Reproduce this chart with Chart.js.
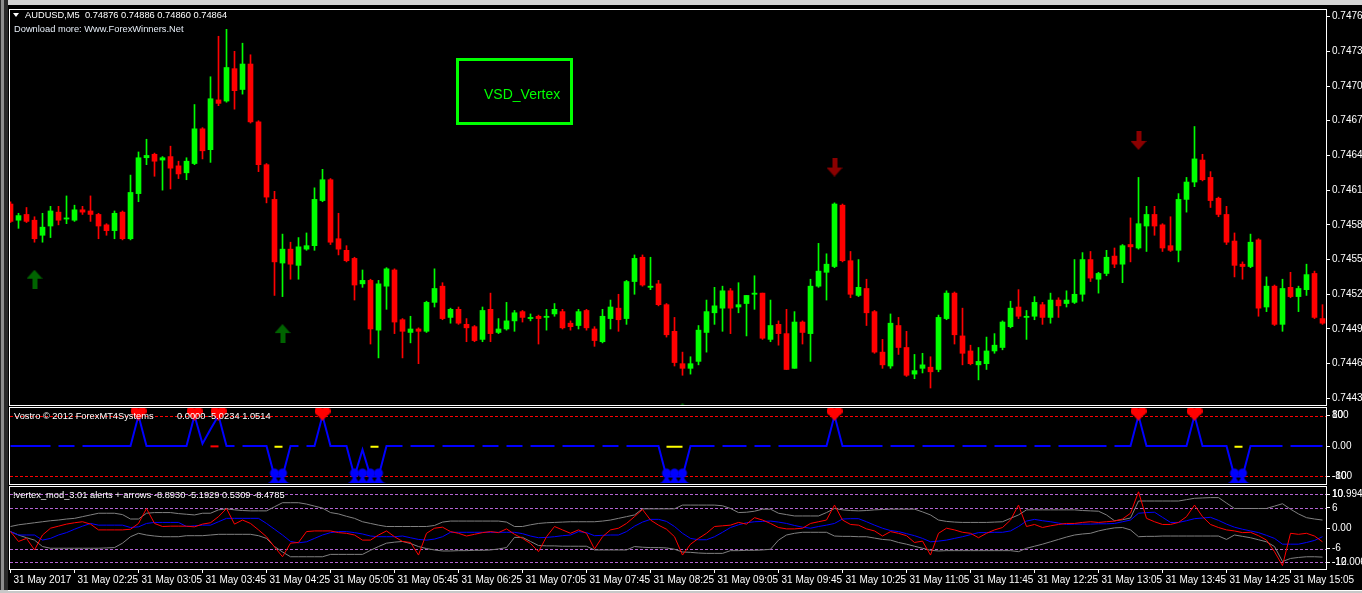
<!DOCTYPE html>
<html>
<head>
<meta charset="utf-8">
<script src="https://cdn.jsdelivr.net/npm/chart.js@4.4.1/dist/chart.umd.min.js"></script>
<style>
  html, body { margin: 0; padding: 0; background: #000; overflow: hidden; }
  #wrap { position: relative; width: 1362px; height: 593px; background: #000; font-family: "Liberation Sans", Arial, sans-serif; }
  #wrap canvas { position: absolute; left: 0; top: 0; }
  .chrome { position: absolute; }
  .txt { position: absolute; white-space: pre; color: #fff; font-size: 9.3px; line-height: 11px; }
  #vsdBox { position: absolute; left: 456px; top: 58px; width: 117px; height: 67px; box-sizing: border-box; border: 3px solid #00ff00; }
  #vsdText { position: absolute; left: 484px; top: 86px; color: #00ff00; font-size: 14px; line-height: 17px; white-space: pre; }
  #tri { position: absolute; left: 13px; top: 13px; width: 0; height: 0; border-left: 3.5px solid transparent; border-right: 3.5px solid transparent; border-top: 4px solid #fff; }
</style>
</head>
<body>
<div id="wrap">
  <div class="chrome" style="left:0;top:0;width:1362px;height:5px;background:#d4d4d4"></div>
  <div class="chrome" style="left:0;top:0;width:8px;height:593px;background:#2a2a2a"></div>
  <div class="chrome" style="left:1px;top:0;width:3px;height:593px;background:#8e8e8e"></div>
  <div class="chrome" style="left:0;top:590px;width:1362px;height:3px;background:#c8c8c8"></div>
  <div class="chrome" style="left:8px;top:590px;width:1354px;height:1px;background:#fff"></div>

  <canvas id="mainChart" width="1362" height="593"></canvas>
  <canvas id="vostroChart" width="1362" height="593"></canvas>
  <canvas id="vertexChart" width="1362" height="593"></canvas>

  <div id="tri"></div>
  <div class="txt" style="left:25px;top:10px">AUDUSD,M5  0.74876 0.74886 0.74860 0.74864</div>
  <div class="txt" style="left:14px;top:24px;color:#e6eef8">Download more: Www.ForexWinners.Net</div>
  <div class="txt" style="left:14px;top:411px">Vostro © 2012 ForexMT4Systems</div>
  <div class="txt" style="left:177px;top:411px">0.0000 -5.0234 1.0514</div>
  <div class="txt" style="left:13px;top:490px">!vertex_mod_3.01 alerts + arrows -8.8930 -5.1929 0.5309 -8.4785</div>
  <div id="vsdBox"></div>
  <div id="vsdText">VSD_Vertex</div>
</div>

<script>
// ---- data (AUDUSD M5, one entry per 5-minute bar) ----
const timeLabels = ['31 May 2017', '31 May 02:25', '31 May 03:05', '31 May 03:45', '31 May 04:25',
  '31 May 05:05', '31 May 05:45', '31 May 06:25', '31 May 07:05', '31 May 07:45', '31 May 08:25',
  '31 May 09:05', '31 May 09:45', '31 May 10:25', '31 May 11:05', '31 May 11:45', '31 May 12:25',
  '31 May 13:05', '31 May 13:45', '31 May 14:25', '31 May 15:05'];
const barsPerLabel = 8;

const priceTicks = [0.74765, 0.74735, 0.74705, 0.74675, 0.74645, 0.74615, 0.74585, 0.74555, 0.74525, 0.74495, 0.74465, 0.74435];

const opens = [
  0.74603,0.74589,0.74594,0.74589,0.74576,0.74584,0.74596,0.74590,0.74589,0.74598,
  0.74597,0.74594,0.74585,0.74580,0.74596,0.74573,0.74612,0.74643,0.74646,0.74641,
  0.74644,0.74636,0.74630,0.74638,0.74668,0.74650,0.74693,0.74692,0.74720,0.74702,
  0.74724,0.74674,0.74637,0.74607,0.74552,0.74564,0.74550,0.74564,0.74567,0.74606,
  0.74624,0.74573,0.74563,0.74556,0.74534,0.74537,0.74494,0.74532,0.74546,0.74503,
  0.74492,0.74495,0.74493,0.74518,0.74532,0.74505,0.74512,0.74499,0.74497,0.74486,
  0.74512,0.74492,0.74495,0.74502,0.74510,0.74504,0.74506,0.74505,0.74508,0.74510,
  0.74500,0.74498,0.74511,0.74495,0.74484,0.74504,0.74513,0.74504,0.74536,0.74557,
  0.74531,0.74534,0.74516,0.74493,0.74465,0.74461,0.74467,0.74492,0.74509,0.74513,
  0.74528,0.74514,0.74517,0.74525,0.74526,0.74486,0.74499,0.74491,0.74461,0.74501,
  0.74491,0.74532,0.74544,0.74549,0.74602,0.74554,0.74524,0.74530,0.74510,0.74475,
  0.74463,0.74498,0.74479,0.74456,0.74461,0.74462,0.74460,0.74504,0.74526,0.74489,
  0.74476,0.74464,0.74465,0.74476,0.74479,0.74497,0.74514,0.74505,0.74506,0.74516,
  0.74505,0.74520,0.74517,0.74518,0.74525,0.74555,0.74538,0.74543,0.74558,0.74551,
  0.74568,0.74565,0.74584,0.74594,0.74585,0.74567,0.74563,0.74607,0.74622,0.74641,
  0.74626,0.74608,0.74594,0.74571,0.74551,0.74549,0.74572,0.74514,0.74532,0.74499,
  0.74531,0.74523,0.74529,0.74543,0.74504];
const highs = [
  0.74605,0.74595,0.74600,0.74592,0.74595,0.74601,0.74601,0.74610,0.74602,0.74601,
  0.74610,0.74595,0.74586,0.74597,0.74597,0.74628,0.74648,0.74659,0.74647,0.74644,
  0.74653,0.74640,0.74643,0.74689,0.74669,0.74713,0.74748,0.74754,0.74735,0.74742,
  0.74732,0.74675,0.74638,0.74614,0.74577,0.74570,0.74574,0.74578,0.74617,0.74633,
  0.74625,0.74595,0.74567,0.74557,0.74546,0.74538,0.74537,0.74548,0.74547,0.74504,
  0.74506,0.74496,0.74519,0.74547,0.74535,0.74513,0.74514,0.74504,0.74498,0.74514,
  0.74526,0.74504,0.74518,0.74511,0.74511,0.74508,0.74507,0.74512,0.74517,0.74512,
  0.74502,0.74512,0.74512,0.74497,0.74512,0.74520,0.74525,0.74537,0.74559,0.74559,
  0.74557,0.74537,0.74517,0.74505,0.74475,0.74471,0.74498,0.74520,0.74531,0.74532,
  0.74530,0.74535,0.74524,0.74541,0.74526,0.74520,0.74502,0.74512,0.74510,0.74502,
  0.74538,0.74569,0.74560,0.74604,0.74603,0.74562,0.74555,0.74538,0.74511,0.74486,
  0.74508,0.74505,0.74493,0.74473,0.74474,0.74471,0.74507,0.74528,0.74527,0.74513,
  0.74481,0.74479,0.74488,0.74491,0.74502,0.74519,0.74529,0.74511,0.74523,0.74518,
  0.74526,0.74522,0.74528,0.74555,0.74561,0.74562,0.74544,0.74563,0.74565,0.74568,
  0.74591,0.74626,0.74601,0.74601,0.74586,0.74592,0.74612,0.74626,0.74670,0.74646,
  0.74631,0.74609,0.74601,0.74578,0.74553,0.74577,0.74573,0.74540,0.74533,0.74538,
  0.74544,0.74532,0.74551,0.74545,0.74516];
const lows = [
  0.74587,0.74582,0.74587,0.74570,0.74570,0.74574,0.74585,0.74586,0.74588,0.74594,
  0.74588,0.74573,0.74576,0.74573,0.74572,0.74572,0.74605,0.74637,0.74627,0.74615,
  0.74616,0.74625,0.74624,0.74637,0.74642,0.74639,0.74688,0.74691,0.74685,0.74698,
  0.74673,0.74631,0.74604,0.74524,0.74523,0.74538,0.74538,0.74563,0.74563,0.74605,
  0.74568,0.74559,0.74553,0.74520,0.74531,0.74482,0.74470,0.74512,0.74491,0.74470,
  0.74483,0.74465,0.74492,0.74514,0.74503,0.74500,0.74499,0.74484,0.74484,0.74484,
  0.74484,0.74491,0.74494,0.74493,0.74501,0.74502,0.74482,0.74494,0.74506,0.74495,
  0.74494,0.74495,0.74494,0.74480,0.74483,0.74495,0.74493,0.74499,0.74525,0.74532,
  0.74529,0.74515,0.74488,0.74463,0.74455,0.74456,0.74464,0.74475,0.74499,0.74493,
  0.74491,0.74509,0.74489,0.74512,0.74486,0.74484,0.74481,0.74460,0.74461,0.74482,
  0.74467,0.74531,0.74520,0.74548,0.74553,0.74522,0.74523,0.74498,0.74474,0.74461,
  0.74461,0.74473,0.74454,0.74452,0.74457,0.74444,0.74458,0.74503,0.74482,0.74464,
  0.74464,0.74451,0.74460,0.74474,0.74477,0.74496,0.74504,0.74486,0.74503,0.74499,
  0.74500,0.74505,0.74514,0.74517,0.74519,0.74536,0.74526,0.74541,0.74548,0.74535,
  0.74553,0.74564,0.74562,0.74576,0.74562,0.74562,0.74553,0.74596,0.74618,0.74623,
  0.74600,0.74592,0.74568,0.74540,0.74538,0.74548,0.74506,0.74510,0.74498,0.74493,
  0.74522,0.74510,0.74524,0.74504,0.74499];
const closes = [
  0.74588,0.74593,0.74588,0.74573,0.74583,0.74597,0.74589,0.74591,0.74598,0.74596,
  0.74594,0.74584,0.74580,0.74595,0.74573,0.74613,0.74643,0.74645,0.74640,0.74643,
  0.74634,0.74629,0.74640,0.74668,0.74649,0.74694,0.74690,0.74721,0.74701,0.74724,
  0.74674,0.74637,0.74609,0.74553,0.74564,0.74551,0.74566,0.74567,0.74607,0.74624,
  0.74570,0.74564,0.74554,0.74533,0.74537,0.74495,0.74534,0.74547,0.74501,0.74493,
  0.74495,0.74493,0.74518,0.74530,0.74504,0.74512,0.74500,0.74496,0.74485,0.74511,
  0.74491,0.74495,0.74502,0.74509,0.74505,0.74505,0.74504,0.74506,0.74512,0.74496,
  0.74497,0.74510,0.74496,0.74485,0.74506,0.74514,0.74503,0.74536,0.74556,0.74533,
  0.74532,0.74516,0.74490,0.74466,0.74461,0.74465,0.74494,0.74510,0.74515,0.74528,
  0.74513,0.74516,0.74524,0.74526,0.74487,0.74498,0.74491,0.74460,0.74501,0.74492,
  0.74532,0.74545,0.74551,0.74603,0.74554,0.74525,0.74531,0.74509,0.74475,0.74464,
  0.74500,0.74479,0.74455,0.74459,0.74464,0.74458,0.74505,0.74526,0.74490,0.74474,
  0.74465,0.74467,0.74476,0.74481,0.74501,0.74513,0.74506,0.74506,0.74518,0.74505,
  0.74520,0.74515,0.74520,0.74525,0.74555,0.74539,0.74543,0.74557,0.74551,0.74567,
  0.74566,0.74586,0.74594,0.74584,0.74565,0.74563,0.74607,0.74622,0.74642,0.74624,
  0.74606,0.74594,0.74570,0.74550,0.74549,0.74570,0.74513,0.74532,0.74499,0.74530,
  0.74523,0.74530,0.74542,0.74505,0.74500];

// VSD_Vertex arrows on the price chart
const upArrowIdx = [3, 34, 84];
const upArrowPrice = [0.74538, 0.74491, 0.74423];
const downArrowIdx = [103, 141];
const downArrowPrice = [0.74635, 0.74658];

// Vostro window
const vostroLine = [
  0,0,0,0,0,0,0,0,0,0, 0,0,0,0,0,0,80,0,0,0,
  0,0,0,80,6,44,80,0,0,0, 0,0,0,-80,-80,0,0,0,0,80,
  0,0,0,-80,-10,-80,-80,0,0,0, 0,0,0,0,0,0,0,0,0,0,
  0,0,0,0,0,0,0,0,0,0, 0,0,0,0,0,0,0,0,0,0,
  0,0,-80,-80,-80,0,0,0,0,0, 0,0,0,0,0,0,0,0,0,0,
  0,0,0,80,0,0,0,0,0,0, 0,0,0,0,0,0,0,0,0,0,
  0,0,0,0,0,0,0,0,0,0, 0,0,0,0,0,0,0,0,0,0,
  0,80,0,0,0,0,0,0,80,0, 0,0,0,-80,-80,0,0,0,0,0,
  0,0,0,0,0];
const vostroGaps = [5, 8, 28, 36, 49, 53, 58, 61, 64, 68, 73, 76, 88, 92, 95, 109, 113, 118, 122, 127, 130, 137, 159];
const heartIdx = [16, 23, 26, 39, 103, 141, 148];
const heartValue = [85, 85, 85, 85, 85, 85, 85];
const clubIdx = [33, 34, 43, 44, 45, 46, 82, 83, 84, 153, 154];
const clubValue = [-78, -78, -78, -78, -78, -78, -78, -78, -78, -78, -78];
const yellowIdx = [33, 34, 45, 46, 82, 83, 84, 153, 154];
const yellowValue = -2;
const redDashIdx = [25, 26];
const redDashValue = -1;
const vostroTicks = [80, 0, -80];
const vostroExtra = [[80, '100'], [-80, '-100']];
const vostroLevels = [80, -80];

// vertex_mod window
const vertexRed = [
  -1.0,-3.9,-3.0,-6.4,-2.0,0,0.6,1.2,1.6,1.9,
  1.2,-0.5,-0.5,-0.5,-0.5,-0.3,1.4,5.8,1.4,0.5,
  0.6,0.6,0.6,0.4,1.2,1.6,3.4,5.8,1.2,2.4,
  1.4,-0.5,-2.5,-5.5,-8.4,-4.4,-4.2,-1.0,-0.8,-0.8,
  -0.8,-1.3,-1.5,-2.0,-3.5,-3.5,-2.0,-0.8,-2.5,-3.9,
  -4.2,-7.9,-1.5,0,0.3,-1.0,-1.5,-2.3,-1.8,-1.3,
  -1.0,-1.3,-0.2,-1.8,-3.0,-4.5,-6.9,-2.5,0.5,-0.5,
  -1.5,-0.5,-1.5,-6.1,-2.5,-0.5,0,1.4,3.4,5.5,
  2.4,0.9,-0.3,-2.5,-7.9,-4.7,-3.0,-1.5,0.5,0.7,
  0.9,1.7,1.2,3.1,2.4,1.4,0.2,-0.2,-0.2,0,
  1.4,1.9,2.4,6.8,2.4,1.1,0.9,-0.2,-0.8,-2.3,
  -1.0,-1.5,-2.2,-4.2,-3.8,-7.9,-1.5,0,-0.5,-1.2,
  -1.5,-2.8,-1.5,-0.5,0.2,2.4,6.8,0.5,1.1,0.2,
  0.7,1.1,1.4,1.4,1.7,1.9,1.7,1.9,2.1,2.7,
  4.4,10.7,2.9,1.9,1.1,1.1,1.7,3.4,6.8,3.4,
  1.1,0.2,-0.5,-0.8,-1.3,-1.2,-2.2,-3.5,-6.9,-11.0,
  -1.5,-1.8,-1.5,-2.3,-4.0];
const vertexBlue = [
  -1.0,-2.0,-2.0,-2.0,-3.5,-3.0,-2.0,-1.3,-0.3,0.6,
  1.4,0.9,0.9,0.9,0.9,0.2,0.4,1.4,1.7,1.7,
  1.7,1.7,0.5,0.7,0.9,0.9,1.9,2.9,2.9,2.9,
  2.9,2.9,1.4,-0.3,-2.0,-3.9,-4.3,-4.0,-3.0,-2.0,
  -1.3,-1.0,-1.0,-1.3,-1.7,-2.3,-2.5,-2.5,-2.5,-2.3,
  -2.8,-3.3,-3.5,-3.2,-2.5,-1.2,-1.2,-1.2,-1.2,-1.2,
  -1.2,-1.2,-1.2,-1.2,-1.6,-2.3,-2.8,-2.7,-2.5,-2.2,
  -2.0,-1.0,-1.3,-2.2,-2.1,-2.0,-2.0,-1.0,0.6,1.8,
  2.6,2.6,2.0,0.5,-1.5,-3.0,-3.4,-3.4,-2.5,-1.2,
  0.2,1.0,1.6,1.9,2.0,2.1,1.8,1.4,0.8,0.3,
  0,0.5,0.9,1.4,2.7,2.8,2.8,1.9,0.9,0,
  -0.7,-1.0,-1.6,-2.2,-3.0,-4.0,-3.8,-3.5,-3.0,-2.5,
  -1.9,-1.3,-1.3,-1.2,-1.2,-0.8,0.5,2.1,2.6,2.2,
  1.9,1.5,1.1,1.2,1.2,1.2,1.3,1.3,1.4,1.9,
  2.4,4.4,4.6,4.7,3.2,1.7,1.7,2.2,2.8,3.0,
  3.2,2.3,1.2,0.3,-0.3,-0.8,-1.3,-2.1,-3.0,-4.7,
  -4.7,-4.7,-4.2,-3.6,-2.5];
const vertexUpper = [
  0.5,1.0,1.3,1.6,1.9,2.2,2.4,2.7,2.9,3.4,
  3.9,4.4,4.4,4.4,4.0,2.7,2.7,4.4,4.6,4.6,
  4.6,4.3,4.1,3.9,4.4,4.4,5.4,5.7,5.4,5.2,
  5.1,5.1,5.1,6.3,7.5,7.5,7.5,7.1,6.5,5.9,
  4.6,4.2,3.5,2.9,1.9,1.4,0.9,0.5,0.5,0.5,
  0.5,0.5,0.5,0.8,1.8,2.1,2.1,2.1,2.1,2.1,
  2.1,2.1,1.8,0.5,0.5,1.0,1.4,1.6,1.7,1.8,
  1.9,1.9,1.9,1.9,2.1,2.4,2.9,3.4,3.9,5.7,
  5.7,5.7,5.7,5.7,6.8,6.8,6.8,6.8,6.8,6.6,
  5.8,4.6,4.7,5.0,5.6,5.6,4.4,4.0,3.6,3.6,
  3.6,3.6,4.6,5.8,5.4,5.2,5.1,5.2,5.4,5.5,
  5.6,5.6,5.6,5.6,4.8,3.9,2.4,2.0,1.8,1.7,
  1.7,1.7,1.7,1.8,1.9,2.9,3.9,5.4,5.4,5.4,
  5.4,5.4,5.4,5.4,5.2,5.1,5.0,3.9,2.2,2.5,
  3.0,8.0,8.0,8.0,8.0,8.0,8.0,8.4,8.8,8.9,
  9.0,9.0,7.4,5.8,5.8,5.8,5.8,5.8,6.5,7.2,
  5.6,4.2,3.1,2.7,2.4];
const vertexLower = [
  -1.0,-2.0,-2.8,-3.5,-5.4,-5.9,-5.9,-5.9,-5.9,-5.9,
  -5.9,-5.9,-5.8,-5.7,-4.4,-2.5,-1.5,-2.0,-2.3,-2.5,
  -2.5,-2.5,-2.2,-2.2,-2.2,-2.0,-1.8,-1.8,-1.8,-1.8,
  -1.8,-2.2,-3.0,-5.4,-7.0,-8.4,-8.4,-8.4,-8.4,-8.4,
  -7.7,-7.7,-7.7,-7.7,-7.7,-6.5,-5.4,-4.4,-4.1,-3.9,
  -4.5,-5.4,-6.0,-6.4,-6.7,-6.7,-6.6,-6.6,-6.5,-6.5,
  -6.4,-6.1,-5.7,-2.7,-2.7,-3.9,-5.1,-5.2,-5.2,-5.3,
  -5.3,-5.3,-5.3,-6.4,-6.4,-6.4,-6.4,-6.4,-5.4,-5.6,
  -5.7,-5.7,-5.8,-6.2,-7.0,-7.1,-7.3,-7.4,-7.4,-7.4,
  -6.6,-6.6,-6.5,-6.5,-6.4,-6.2,-3.5,-2.0,-1.5,-1.2,
  -1.2,-1.2,-1.2,-2.3,-2.4,-2.4,-2.5,-2.5,-2.9,-3.3,
  -3.5,-4.2,-4.7,-5.3,-5.9,-6.5,-6.7,-6.6,-6.6,-6.6,
  -6.6,-6.6,-6.6,-6.6,-6.6,-6.6,-6.9,-5.9,-5.3,-4.7,
  -4.0,-3.3,-2.6,-2.0,-1.7,-1.5,-0.8,-0.3,0.1,0.2,
  -0.5,-2.5,-2.4,-2.4,-2.3,-2.3,-2.3,-2.3,-2.3,-2.3,
  -2.3,-2.3,-3.3,-2.0,-2.4,-2.8,-3.4,-4.0,-5.4,-9.8,
  -8.9,-8.6,-8.4,-8.4,-8.5];
const vertexTicks = [10, 6, 0, -6, -10];
const vertexExtra = [[10, '10.9945'], [-10, '-12.006']];
const vertexLevels = [10, 6, -6, -10];

// ---- drawing ----
const FONT = '"Liberation Sans", Arial, sans-serif';
Chart.defaults.font.family = FONT;
Chart.defaults.font.size = 10;
Chart.defaults.color = '#ffffff';

const GREEN = '#00ff00', RED = '#ff0000', BLUE = '#0000ff';
const X_MIN = -0.0625, X_MAX = X_MIN + 164.5;   // 8 px per bar in a 1316 px plot
const AXIS_W = 36;

function icon(w, h, draw) {
  const c = document.createElement('canvas');
  c.width = w; c.height = h;
  draw(c.getContext('2d'));
  return c;
}
const upIcon = icon(16, 19, g => {
  g.fillStyle = '#006400';
  g.beginPath(); g.moveTo(8, 0); g.lineTo(16, 9); g.lineTo(0, 9); g.closePath(); g.fill();
  g.fillRect(6, 8, 5, 11);
});
const downIcon = icon(16, 19, g => {
  g.fillStyle = '#8b0000';
  g.fillRect(6, 0, 5, 11);
  g.beginPath(); g.moveTo(0, 10); g.lineTo(16, 10); g.lineTo(8, 19); g.closePath(); g.fill();
});
const heartIcon = icon(16, 14, g => {
  g.fillStyle = RED;
  g.beginPath(); g.arc(4.3, 4.3, 4.3, 0, Math.PI * 2); g.fill();
  g.beginPath(); g.arc(11.7, 4.3, 4.3, 0, Math.PI * 2); g.fill();
  g.beginPath(); g.moveTo(0.2, 5.5); g.lineTo(15.8, 5.5); g.lineTo(8, 14); g.closePath(); g.fill();
});
const clubIcon = icon(14, 15, g => {
  g.fillStyle = BLUE;
  g.beginPath(); g.arc(7, 5, 4.5, 0, Math.PI * 2); g.fill();
  g.beginPath(); g.moveTo(7, 3); g.quadraticCurveTo(8, 13, 14, 15); g.lineTo(0, 15); g.quadraticCurveTo(6, 13, 7, 3); g.fill();
});

const framePlugin = {
  id: 'frame',
  afterDraw(chart) {
    const { ctx, chartArea: a } = chart;
    ctx.save();
    ctx.strokeStyle = '#ffffff';
    ctx.lineWidth = 1;
    ctx.strokeRect(a.left - 0.5, a.top - 0.5, a.width + 1, a.height + 1);
    ctx.restore();
  }
};
const levelsPlugin = {
  id: 'levels',
  beforeDatasetsDraw(chart, args, opts) {
    if (!opts.values) return;
    const { ctx, chartArea: a } = chart;
    ctx.save();
    ctx.strokeStyle = opts.color;
    ctx.lineWidth = 1;
    ctx.setLineDash([3, 2]);
    opts.values.forEach(v => {
      const py = Math.round(chart.scales.y.getPixelForValue(v)) + 0.5;
      ctx.beginPath(); ctx.moveTo(a.left, py); ctx.lineTo(a.right, py); ctx.stroke();
    });
    ctx.restore();
  }
};
const extraLabelsPlugin = {
  id: 'extraLabels',
  afterDraw(chart, args, opts) {
    if (!opts.items) return;
    const { ctx, chartArea: a } = chart;
    ctx.save();
    ctx.fillStyle = '#ffffff';
    ctx.font = '10px ' + FONT;
    ctx.textBaseline = 'middle';
    ctx.textAlign = 'left';
    opts.items.forEach(it => ctx.fillText(it[1], a.right + 6, chart.scales.y.getPixelForValue(it[0])));
    ctx.restore();
  }
};

function hiddenX() {
  return { type: 'linear', min: X_MIN, max: X_MAX, display: false, offset: false };
}
function rightAxis(min, max, ticks, fmt) {
  return {
    type: 'linear', position: 'right', min, max,
    afterBuildTicks: s => { s.ticks = ticks.map(v => ({ value: v })); },
    afterFit: s => { s.width = AXIS_W; s.paddingTop = 0; s.paddingBottom = 0; },
    grid: { drawOnChartArea: false, drawTicks: true, tickLength: 4, color: '#ffffff' },
    border: { display: false },
    ticks: { padding: 2, color: '#ffffff', font: { size: 10 }, callback: fmt }
  };
}
const baseOptions = {
  responsive: false,
  animation: false,
  events: [],
  plugins: { legend: { display: false }, tooltip: { enabled: false } }
};
const pts = (idx, vals) => idx.map((k, i) => ({ x: k, y: Array.isArray(vals) ? vals[i] : vals }));
const series = arr => arr.map((v, i) => ({ x: i, y: v }));

// price window
const candleColors = opens.map((o, i) => closes[i] >= o ? GREEN : RED);
new Chart(document.getElementById('mainChart'), {
  type: 'bar',
  data: {
    datasets: [
      { type: 'line', data: pts(upArrowIdx, upArrowPrice), showLine: false, pointStyle: upIcon, pointRadius: 9, clip: 0 },
      { type: 'line', data: pts(downArrowIdx, downArrowPrice), showLine: false, pointStyle: downIcon, pointRadius: 9, clip: 0 },
      { data: opens.map((o, i) => ({ x: i, y: [o, closes[i]] })), backgroundColor: candleColors,
        barThickness: 5, grouped: false, borderWidth: 0, clip: 0 },
      { data: lows.map((l, i) => ({ x: i, y: [l, highs[i]] })), backgroundColor: candleColors,
        barThickness: 1, grouped: false, borderWidth: 0, clip: 0 }
    ]
  },
  options: Object.assign({}, baseOptions, {
    layout: { padding: { left: 10, top: 8, right: 0, bottom: 188 } },
    scales: {
      x: hiddenX(),
      y: rightAxis(0.744293, 0.747707, priceTicks, v => v.toFixed(5))
    }
  }),
  plugins: [framePlugin]
});

// Vostro window
const yellowSeries = vostroLine.map((v, i) => ({ x: i, y: yellowIdx.includes(i) ? yellowValue : null }));
const redDashSeries = vostroLine.map((v, i) => ({ x: i, y: redDashIdx.includes(i) ? redDashValue : null }));
new Chart(document.getElementById('vostroChart'), {
  type: 'line',
  data: {
    datasets: [
      { data: pts(heartIdx, heartValue), showLine: false, pointStyle: heartIcon, pointRadius: 8, clip: 0 },
      { data: pts(clubIdx, clubValue), showLine: false, pointStyle: clubIcon, pointRadius: 7, clip: 0 },
      { data: yellowSeries, borderColor: '#ffff00', borderWidth: 2, pointRadius: 0, spanGaps: false },
      { data: redDashSeries, borderColor: RED, borderWidth: 2, pointRadius: 0, spanGaps: false },
      { data: series(vostroLine), borderColor: BLUE, borderWidth: 2, pointRadius: 0, tension: 0,
        segment: { borderColor: c => vostroGaps.includes(c.p0DataIndex) ? 'rgba(0,0,0,0)' : BLUE } }
    ]
  },
  options: Object.assign({}, baseOptions, {
    layout: { padding: { left: 10, top: 408, right: 0, bottom: 109 } },
    scales: {
      x: hiddenX(),
      y: rightAxis(-100, 100, vostroTicks, v => v === 0 ? '0.00' : String(v))
    },
    plugins: Object.assign({}, baseOptions.plugins, {
      levels: { values: vostroLevels, color: '#ff0000' },
      extraLabels: { items: vostroExtra }
    })
  }),
  plugins: [levelsPlugin, framePlugin, extraLabelsPlugin]
});

// vertex_mod window with the time axis
new Chart(document.getElementById('vertexChart'), {
  type: 'line',
  data: {
    datasets: [
      { data: series(vertexRed), borderColor: RED, borderWidth: 1, pointRadius: 0, tension: 0 },
      { data: series(vertexBlue), borderColor: BLUE, borderWidth: 1, pointRadius: 0, tension: 0 },
      { data: series(vertexUpper), borderColor: '#808080', borderWidth: 1, pointRadius: 0, tension: 0 },
      { data: series(vertexLower), borderColor: '#808080', borderWidth: 1, pointRadius: 0, tension: 0 }
    ]
  },
  options: Object.assign({}, baseOptions, {
    layout: { padding: { left: 10, top: 487, right: 0, bottom: 0 } },
    scales: {
      x: {
        type: 'linear', min: X_MIN, max: X_MAX, offset: false, position: 'bottom',
        afterBuildTicks: s => { s.ticks = timeLabels.map((t, i) => ({ value: i * barsPerLabel })); },
        afterFit: s => { s.height = 24; s.paddingLeft = 0; s.paddingRight = 0; },
        grid: { drawOnChartArea: false, drawTicks: true, tickLength: 4, color: '#ffffff' },
        border: { display: false },
        ticks: {
          autoSkip: false, maxRotation: 0, minRotation: 0, align: 'start', labelOffset: 3, padding: 1,
          color: '#ffffff', font: { size: 10 },
          callback: v => timeLabels[Math.round(v / barsPerLabel)]
        }
      },
      y: rightAxis(-12, 12.12, vertexTicks, v => v === 0 ? '0.00' : String(v))
    },
    plugins: Object.assign({}, baseOptions.plugins, {
      levels: { values: vertexLevels, color: '#b464d2' },
      extraLabels: { items: vertexExtra }
    })
  }),
  plugins: [levelsPlugin, framePlugin, extraLabelsPlugin]
});
</script>
</body>
</html>
